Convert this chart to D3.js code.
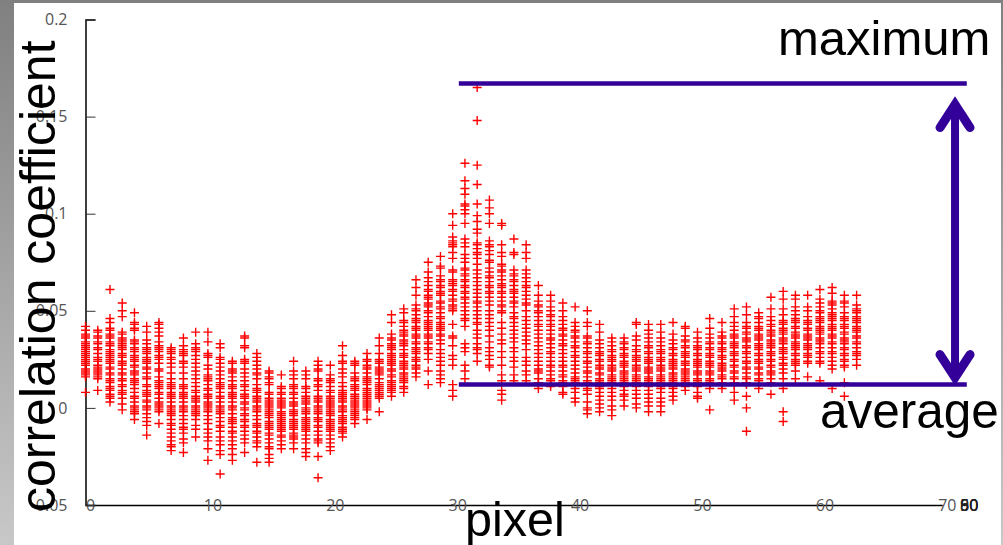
<!DOCTYPE html>
<html>
<head>
<meta charset="utf-8">
<script src="https://cdn.jsdelivr.net/npm/d3@7"></script>
<style>
	html, body { margin: 0; padding: 0; background: #fff; overflow: hidden; }
	svg { display: block; }
</style>
</head>
<body>
<div id="plot"></div>
<script>
// correlation per pixel column, in thousandths
var col0 = [42,40,38,37,36,34,33,32,31,30,29,28,27,26,25,24,23,22,20,19,18,17,16,8];
var col1 = [40,39,37,36,34,33,31,30,28,26,25,24,22,21,20,19,18,17,16,15,9];
var col2 = [61,46,44,41,40,38,37,36,34,33,32,30,29,28,27,26,25,24,23,21,20,18,17,15,14,13,11,10,9,7,6,5,3];
var col3 = [54,50,47,39,38,36,35,34,33,32,31,30,28,27,26,24,23,22,20,18,17,15,14,12,11,9,8,7,5,2,-1];
var col4 = [49,44,43,41,40,35,34,33,31,30,29,27,26,25,24,22,21,19,18,17,15,14,13,12,10,8,6,5,3,1,0,-1,-2,-3,-6];
var col5 = [42,39,35,33,31,30,29,28,26,25,24,23,21,20,18,16,15,12,11,9,8,7,6,4,3,1,0,-1,-3,-5,-7,-9,-14];
var col6 = [44,43,41,39,37,34,32,31,30,29,27,26,25,23,20,19,16,14,13,12,11,10,8,7,5,3,2,1,0,-1,-2,-8];
var col7 = [31,30,29,28,26,25,23,21,18,15,13,12,11,10,8,7,6,5,3,1,0,-1,-2,-3,-4,-6,-8,-9,-11,-13,-15,-17,-19,-20,-22];
var col8 = [36,32,30,29,28,27,24,23,21,18,15,12,11,10,8,7,6,5,3,1,0,-1,-2,-4,-6,-8,-10,-11,-13,-16,-18,-23];
var col9 = [39,33,31,30,29,27,25,23,21,19,17,15,13,11,9,8,6,5,4,3,1,0,-1,-2,-3,-4,-6,-9,-11,-15];
var col10 = [39,34,28,27,26,22,20,17,16,15,14,12,10,9,7,6,5,3,2,1,0,-1,-2,-4,-6,-8,-11,-13,-15,-17,-21,-27];
var col11 = [33,31,26,25,23,21,19,17,15,13,12,11,10,8,6,5,3,1,0,-1,-2,-3,-5,-7,-9,-10,-12,-15,-17,-19,-22,-24,-34];
var col12 = [24,23,20,19,18,16,14,12,11,10,8,7,6,5,3,1,0,-1,-3,-5,-6,-7,-8,-10,-12,-13,-15,-17,-19,-21,-24,-27];
var col13 = [37,36,32,31,25,24,23,20,18,16,14,12,11,9,7,6,5,3,2,0,-1,-3,-4,-6,-7,-9,-10,-12,-14,-16,-18,-23];
var col14 = [28,26,24,22,20,18,17,15,12,10,9,8,6,5,4,3,1,0,-1,-2,-4,-6,-8,-9,-10,-12,-13,-15,-17,-18,-20,-28];
var col15 = [19,18,16,15,13,12,8,7,5,4,3,2,1,0,-1,-2,-3,-4,-5,-7,-8,-9,-10,-11,-13,-14,-16,-18,-20,-21,-24,-26,-28];
var col16 = [17,11,10,8,7,5,4,3,2,1,0,-2,-3,-4,-5,-6,-7,-8,-9,-10,-11,-12,-14,-15,-17,-19,-21];
var col17 = [24,19,17,15,12,11,10,8,7,5,3,2,1,-1,-2,-3,-4,-6,-7,-8,-9,-10,-11,-13,-14,-15,-16,-18,-21];
var col18 = [19,17,15,11,10,8,6,5,4,3,2,0,-1,-2,-3,-5,-6,-7,-8,-9,-10,-11,-12,-14,-16,-18,-21,-23,-25];
var col19 = [24,22,20,19,15,14,12,11,9,6,5,4,3,1,0,-1,-2,-3,-5,-6,-7,-9,-10,-12,-14,-16,-17,-18,-25,-36];
var col20 = [22,17,15,14,13,11,9,8,6,5,4,3,2,1,0,-1,-2,-3,-4,-6,-7,-8,-9,-10,-11,-12,-14,-16,-18,-20,-22];
var col21 = [32,27,24,23,20,18,16,13,11,9,8,7,6,5,4,3,1,0,-1,-2,-4,-5,-6,-7,-8,-10,-11,-12,-13,-15];
var col22 = [24,23,22,18,16,15,14,12,11,10,9,7,6,5,4,3,2,1,0,-1,-2,-3,-4,-5,-6,-8];
var col23 = [28,25,24,22,21,20,18,16,15,14,13,12,10,9,8,7,6,5,4,3,2,1,0,-1,-6];
var col24 = [36,32,28,25,24,23,21,20,19,18,17,15,13,12,11,10,9,8,7,6,5,-2];
var col25 = [48,44,38,36,35,33,32,31,30,28,27,26,25,24,23,22,20,19,17,16,14,13,12,11,10,9,8,6];
var col26 = [51,49,45,44,42,40,39,38,37,35,34,33,32,30,28,27,26,24,23,22,21,20,18,17,16,15,14,13,11,10,8];
var col27 = [66,62,58,53,51,50,48,46,45,44,42,41,40,38,37,36,34,33,31,30,29,28,26,25,24,22,21,20,18,16];
var col28 = [75,70,67,65,63,61,60,58,57,56,54,53,52,50,49,47,45,44,43,42,41,40,38,37,36,34,33,31,30,28,25,19,12];
var col29 = [78,73,72,68,66,65,63,62,60,59,58,55,54,52,51,49,47,46,44,43,42,41,40,38,37,35,33,30,28,26,24,22,19,17,15,13];
var col30 = [100,94,88,86,85,84,83,80,77,71,70,66,65,64,63,61,60,58,56,55,53,52,51,50,43,37,36,32,27,25,22,12,9,6];
var col31 = [126,117,113,110,105,104,102,100,95,87,85,83,79,77,75,72,71,69,68,66,65,63,62,60,59,57,56,54,52,50,48,46,45,42,33,31,29,22,19,15];
var col32 = [165,148,125,115,105,99,96,92,90,85,84,82,80,79,77,74,71,69,67,65,63,61,59,57,55,54,52,50,48,46,44,43,40,38,36,33,31,30,28,24];
var col33 = [107,103,100,95,86,84,83,81,79,76,75,72,70,68,67,65,63,62,60,59,57,55,53,50,48,46,44,42,40,37,34,31,29,27,25,22,21];
var col34 = [95,94,84,80,78,74,73,71,70,68,66,64,63,62,60,59,57,55,53,52,50,49,44,41,38,35,33,29,26,22,17,14,9,7,4];
var col35 = [87,80,79,71,69,68,66,65,63,61,60,59,57,55,54,52,49,47,46,44,42,40,38,36,34,31,29,26,24,21,17,14];
var col36 = [84,80,77,71,69,67,65,63,62,60,58,56,54,53,50,47,45,43,41,39,37,35,33,30,26,24,22,19,17,14];
var col37 = [63,58,55,53,52,50,49,47,45,43,42,40,38,36,34,32,30,28,26,24,22,20,19,18,15,13,12,10];
var col38 = [58,55,52,50,48,47,45,43,42,40,38,36,35,33,31,29,28,26,24,22,21,19,17,15,14,12,11];
var col39 = [54,50,47,45,43,41,40,38,37,35,33,32,30,28,26,24,22,21,19,17,16,14,13,11,8,7];
var col40 = [52,44,42,40,39,37,36,34,32,31,29,27,26,24,22,20,18,16,15,14,13,12,10,8,5,3];
var col41 = [50,44,42,37,36,34,33,31,29,28,26,24,23,21,19,18,16,14,13,12,10,9,7,3,0,-1,-3];
var col42 = [43,39,35,33,31,29,28,27,25,24,22,21,20,18,17,15,14,13,11,10,8,6,4,2,0,-2];
var col43 = [36,34,32,30,29,27,26,25,24,22,21,20,19,17,16,15,14,13,12,10,8,6,4,1,-1,-4];
var col44 = [36,34,33,31,30,28,27,26,24,23,22,21,19,18,17,16,15,14,13,11,9,7,6,4,1];
var col45 = [44,43,37,35,32,30,29,27,26,25,24,22,21,20,19,17,16,15,14,13,11,9,7,5,2,0];
var col46 = [43,40,38,36,34,32,31,29,28,26,25,24,23,21,20,19,18,16,15,14,13,11,9,7,5,3,1,-2];
var col47 = [43,39,36,34,32,30,29,28,26,25,24,22,21,20,19,17,16,15,14,13,11,10,8,5,3,1,-2];
var col48 = [44,38,35,33,31,30,28,27,25,24,23,22,21,20,18,17,16,15,14,13,11,10,8,6,4];
var col49 = [42,41,37,35,34,32,31,29,28,27,26,24,23,22,20,19,18,17,16,15,14,13,12,11,9];
var col50 = [39,36,34,32,31,30,28,27,25,24,23,22,21,19,18,17,15,14,13,12,11,8,6,5];
var col51 = [46,41,38,36,34,33,31,30,28,27,26,24,23,22,21,19,18,17,15,14,13,12,10,-1];
var col52 = [44,39,37,36,34,33,31,30,29,27,26,25,23,22,21,20,19,17,16,15,13,12,10];
var col53 = [51,47,44,42,40,38,37,36,34,33,32,31,29,28,27,25,24,22,21,19,18,16,15,13,12,8,4];
var col54 = [52,48,44,42,41,39,38,36,35,34,32,31,29,28,26,24,23,21,20,18,16,15,13,12,6,0,-12];
var col55 = [49,47,46,44,42,41,40,38,37,36,35,33,32,31,30,28,27,25,24,23,21,20,18,17,15,14,12,10];
var col56 = [57,51,47,45,43,42,40,39,38,37,35,34,33,32,31,29,28,27,25,24,22,21,19,18,17,15,13,7];
var col57 = [60,56,51,48,45,44,43,41,40,39,38,36,35,34,33,31,30,29,28,26,25,23,22,20,18,15,10,-2,-7];
var col58 = [58,56,52,50,48,46,45,44,42,41,39,38,37,36,34,33,32,31,30,28,27,25,24,23,22,19,15];
var col59 = [58,52,50,47,45,44,43,41,40,38,37,36,35,33,32,31,30,28,27,26,24,23,16];
var col60 = [61,56,54,52,50,49,47,46,45,44,42,41,40,39,38,36,35,34,33,31,29,28,26,24,23,14];
var col61 = [62,59,55,54,53,51,49,48,47,46,45,43,42,41,40,38,37,36,34,33,31,29,28,26,24,22,20,10];
var col62 = [58,55,54,52,49,47,46,45,43,42,41,39,38,36,35,34,33,31,30,28,27,25,24,22,21,13,6];
var col63 = [58,53,51,50,49,47,46,45,44,42,41,40,39,37,36,34,33,31,29,28,27,25,22];

var columns = [col0,col1,col2,col3,col4,col5,col6,col7,col8,col9,col10,col11,col12,col13,col14,col15,
	col16,col17,col18,col19,col20,col21,col22,col23,col24,col25,col26,col27,col28,col29,col30,col31,
	col32,col33,col34,col35,col36,col37,col38,col39,col40,col41,col42,col43,col44,col45,col46,col47,
	col48,col49,col50,col51,col52,col53,col54,col55,col56,col57,col58,col59,col60,col61,col62,col63];

var xTicks = [0, 10, 20, 30, 40, 50, 60, 70];
var yTicks = [-0.05, 0, 0.05, 0.1, 0.15, 0.2];
var overlappedLabels = ["50", "60", "90", "80"];
var maximum = 0.167;
var average = 0.012;

var width = 1003, height = 545;
var purple = "#330099";

var svg = d3.select("#plot").append("svg")
	.attr("width", width)
	.attr("height", height);

// slide background showing at the edges
var grad = svg.append("defs").append("linearGradient")
	.attr("id", "edge")
	.attr("x1", 0).attr("y1", 0).attr("x2", 0).attr("y2", 1);
grad.append("stop").attr("offset", "0%").attr("stop-color", "#808080");
grad.append("stop").attr("offset", "100%").attr("stop-color", "#c8c8c8");
svg.append("rect").attr("x", 0).attr("y", 0).attr("width", 14).attr("height", height).attr("fill", "url(#edge)");
svg.append("rect").attr("x", 0).attr("y", 0).attr("width", width).attr("height", 3).attr("fill", "#808080");
svg.append("rect").attr("x", 1001).attr("y", 0).attr("width", 2).attr("height", height).attr("fill", "url(#edge)");

// scales
var x = d3.scaleLinear().domain([0, 70]).range([85.5, 942.3]);
var y = d3.scaleLinear().domain([-0.05, 0.2]).range([505, 19.5]);

// axes
var xAxis = svg.append("g")
	.attr("transform", "translate(0," + y(-0.05) + ")")
	.call(d3.axisBottom(x).tickValues(xTicks).tickSize(0).tickPadding(-5.5).tickFormat(d3.format("d")));
var yAxis = svg.append("g")
	.attr("transform", "translate(" + x(0) + ",0)")
	.call(d3.axisLeft(y).tickValues(yTicks).tickSize(-10).tickPadding(18).tickFormat(function(d) { return String(d); }));

xAxis.selectAll("text").attr("dx", 4.5);
[xAxis, yAxis].forEach(function(a) {
	a.select(".domain").attr("stroke", "#000").attr("stroke-width", 1.5);
	a.selectAll("text")
		.style("font-family", "'Open Sans', sans-serif")
		.style("font-size", "16px")
		.attr("fill", "#555");
});
yAxis.selectAll(".tick line").attr("stroke", "#333");

// labels piled up at the end of the x axis
svg.selectAll("pile")
	.data(overlappedLabels)
	.enter()
	.append("text")
	.attr("x", x(72.2))
	.attr("y", y(-0.05) + 5.5)
	.attr("text-anchor", "middle")
	.style("font-family", "'Open Sans', sans-serif")
	.style("font-size", "16px")
	.attr("fill", "#222")
	.text(function(d) { return d; });

// plus marks, one group per pixel column
var plus = "M-4.5,0H4.5M0,-4.5V4.5";
svg.append("g")
	.style("filter", "blur(0.3px)")
	.selectAll("g")
	.data(columns)
	.enter()
	.append("g")
	.attr("transform", function(d, i) { return "translate(" + x(i) + ",0)"; })
	.selectAll("path")
	.data(function(d) { return d; })
	.enter()
	.append("path")
	.attr("d", plus)
	.attr("transform", function(d) { return "translate(0," + y(d / 1000) + ")"; })
	.attr("fill", "none")
	.attr("stroke", "#ff0000")
	.attr("stroke-width", 1.4);

// maximum and average lines
svg.selectAll("refline")
	.data([maximum, average])
	.enter()
	.append("line")
	.attr("x1", x(30.5))
	.attr("x2", x(72))
	.attr("y1", function(d) { return y(d); })
	.attr("y2", function(d) { return y(d); })
	.attr("stroke", purple)
	.attr("stroke-width", 4.5);

// double arrow between them
var ax = x(71.04);
var topTip = y(maximum) + 16, botTip = y(average) - 2;
svg.append("line")
	.attr("x1", ax).attr("x2", ax)
	.attr("y1", topTip + 6).attr("y2", botTip - 6)
	.attr("stroke", purple).attr("stroke-width", 8);
[[topTip, 1], [botTip, -1]].forEach(function(t) {
	svg.append("path")
		.attr("d", "M" + (ax - 15) + "," + (t[0] + t[1] * 28) + "L" + ax + "," + (t[0] + t[1] * 5) + "L" + (ax + 15) + "," + (t[0] + t[1] * 28))
		.attr("fill", "none")
		.attr("stroke", purple)
		.attr("stroke-width", 9)
		.attr("stroke-linecap", "round")
		.attr("stroke-linejoin", "miter");
});

// big overlaid text
function bigText(label, px, py, size, rotate) {
	var t = svg.append("text")
		.attr("x", px)
		.attr("y", py)
		.style("font-family", "'Liberation Sans', Arial, sans-serif")
		.style("font-size", size + "px")
		.attr("fill", "#000")
		.text(label);
	if (rotate) t.attr("transform", "rotate(-90," + px + "," + py + ")");
}
bigText("maximum", 778, 55, 49);
bigText("average", 820, 428, 49.5);
bigText("pixel", 465, 536, 48.5);
bigText("correlation coefficient", 55, 512, 50, true);
</script>
</body>
</html>
